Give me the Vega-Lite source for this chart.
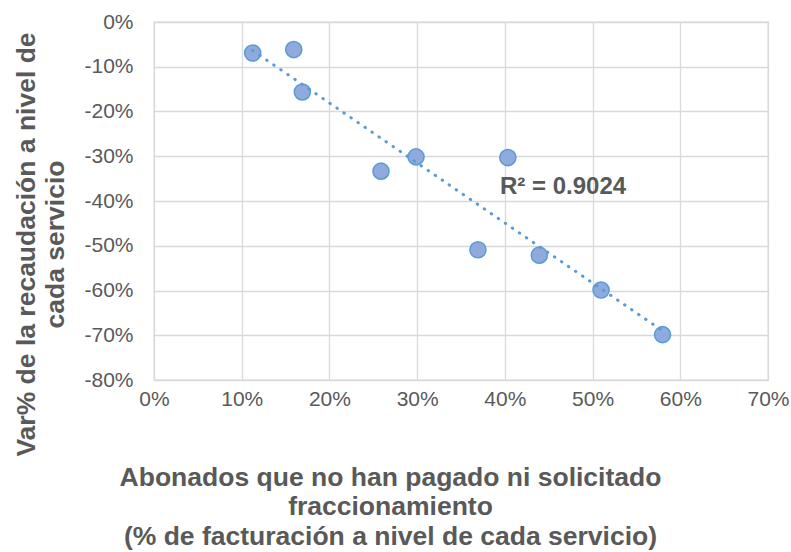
{
  "$schema": "https://vega.github.io/schema/vega-lite/v6.json",
  "autosize": {"type": "none"},
  "padding": {"left": 154, "top": 22, "right": 23, "bottom": 172},
  "width": 614,
  "height": 358,
  "background": "white",
  "config": {
    "view": {"stroke": "#D9D9D9", "strokeWidth": 1.3},
    "axis": {
      "grid": true,
      "gridColor": "#D9D9D9",
      "gridWidth": 1.3,
      "domain": false,
      "ticks": false,
      "labelFlush": false,
      "labelFont": "Liberation Sans",
      "labelFontSize": 21,
      "labelColor": "#595959",
      "titleFont": "Liberation Sans",
      "titleFontSize": 26.5,
      "titleFontWeight": "bold",
      "titleColor": "#595959",
      "titleLineHeight": 29.5
    }
  },
  "datasets": {
    "pts": [
      {"x": 0.1125, "y": -0.0692},
      {"x": 0.1593, "y": -0.0616},
      {"x": 0.1691, "y": -0.1563},
      {"x": 0.2588, "y": -0.3333},
      {"x": 0.2987, "y": -0.3014},
      {"x": 0.3693, "y": -0.509},
      {"x": 0.4034, "y": -0.303},
      {"x": 0.4393, "y": -0.521},
      {"x": 0.5097, "y": -0.599},
      {"x": 0.5798, "y": -0.6986}
    ],
    "lbl": [
      {"x": 0.3945, "y": -0.369, "label": "R² = 0.9024"}
    ]
  },
  "layer": [
    {
      "data": {"name": "pts"},
      "mark": {"type": "circle", "fill": "#8FAADC", "stroke": "#5B9BD5", "strokeWidth": 1.5, "size": 260, "opacity": 1},
      "encoding": {
        "x": {
          "field": "x", "type": "quantitative",
          "scale": {"domain": [0, 0.7], "nice": false},
          "axis": {
            "values": [0, 0.1, 0.2, 0.3, 0.4, 0.5, 0.6, 0.7],
            "labelExpr": "round(datum.value*100) + '%'",
            "labelPadding": 8,
            "labelBaseline": "top",
            "title": ["Abonados que no han pagado ni solicitado", "fraccionamiento", "(% de facturación a nivel de cada servicio)"],
            "titleX": 236,
            "titleY": 105,
            "titleAlign": "center",
            "titleBaseline": "alphabetic"
          }
        },
        "y": {
          "field": "y", "type": "quantitative",
          "scale": {"domain": [-0.8, 0], "nice": false},
          "axis": {
            "values": [0, -0.1, -0.2, -0.3, -0.4, -0.5, -0.6, -0.7, -0.8],
            "labelExpr": "round(datum.value*100) + '%'",
            "labelPadding": 21,
            "title": ["Var% de la recaudación a nivel de", "cada servicio"],
            "titleX": -120,
            "titleY": 222,
            "titleAngle": -90,
            "titleAlign": "center",
            "titleBaseline": "alphabetic"
          }
        }
      }
    },
    {
      "data": {"name": "pts"},
      "transform": [{"regression": "y", "on": "x"}],
      "mark": {"type": "line", "color": "#5B9BD5", "strokeWidth": 3, "strokeCap": "round", "strokeDash": [0.5, 8]},
      "encoding": {
        "x": {"field": "x", "type": "quantitative"},
        "y": {"field": "y", "type": "quantitative"}
      }
    },
    {
      "data": {"name": "lbl"},
      "mark": {"type": "text", "align": "left", "baseline": "middle", "font": "Liberation Sans", "fontSize": 24, "fontWeight": "bold", "color": "#595959"},
      "encoding": {
        "x": {"field": "x", "type": "quantitative"},
        "y": {"field": "y", "type": "quantitative"},
        "text": {"field": "label"}
      }
    }
  ]
}
